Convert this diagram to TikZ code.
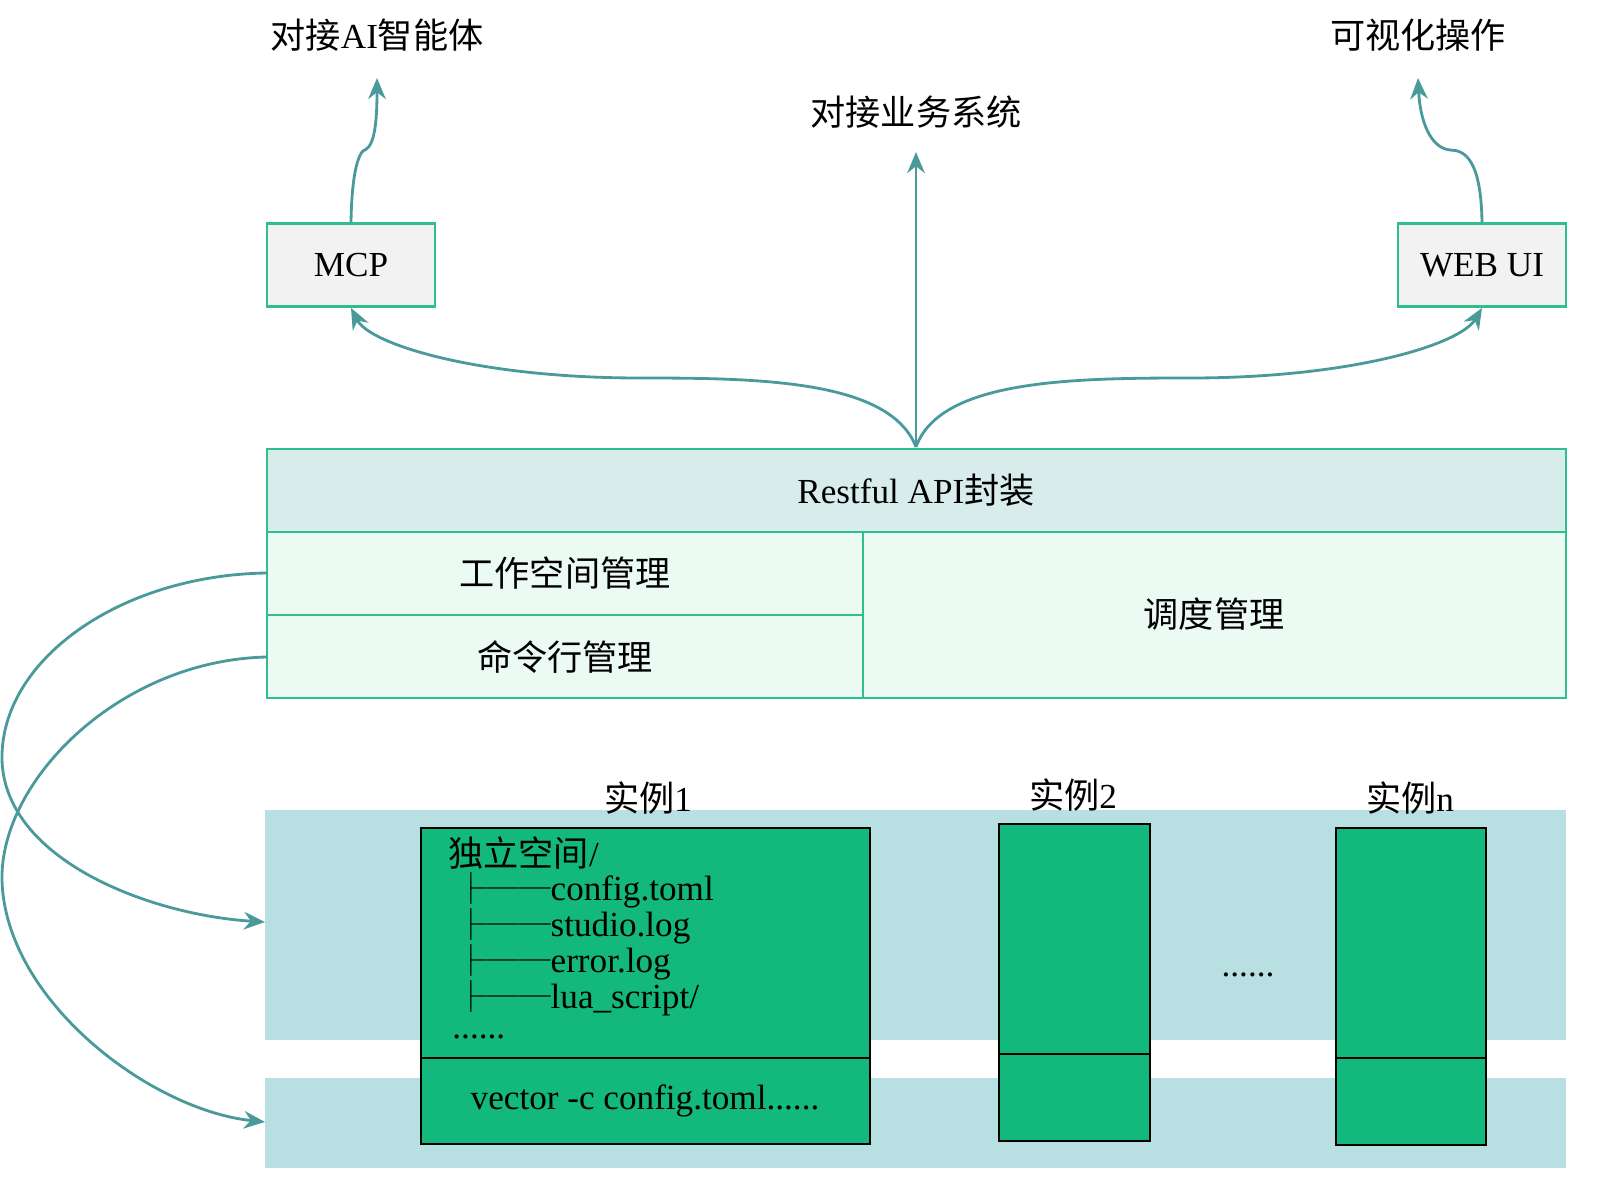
\documentclass[tikz,border=0pt]{standalone}
\usepackage{fontspec}
\setmainfont{Liberation Serif}
\newfontfamily\cjk{Noto Sans CJK SC}
\usetikzlibrary{arrows.meta}
\definecolor{edge}{HTML}{2EBF8C}
\definecolor{arr}{HTML}{4A9A9C}
\definecolor{bluefill}{HTML}{D8ECEC}
\definecolor{mintfill}{HTML}{ECFAF4}
\definecolor{band}{HTML}{B8E0E2}
\definecolor{inst}{HTML}{12B87C}
\definecolor{boxgray}{HTML}{F2F2F2}
\newcommand{\zh}[1]{{\cjk #1}}
\begin{document}
\begin{tikzpicture}[x=0.01cm,y=-0.01cm,font=\fontsize{10}{12}\selectfont,
    flow/.style={arr,thick,-{Stealth[length=6pt,width=5pt]}},
    panel/.style={draw=edge,thick},
    inbox/.style={draw=black,thick,fill=inst}]
        \useasboundingbox (0,0) rectangle (1600,1194);

        % top targets
        \node (ai) at (377,35) {\zh{对接}AI\zh{智能体}};
        \node (biz) at (916,112) {\zh{对接业务系统}};
        \node (viz) at (1418,35) {\zh{可视化操作}};
        \coordinate (aiin) at (377,78);
        \coordinate (bizin) at (916,152);
        \coordinate (vizin) at (1418,78);

        % access boxes
        \node[panel,fill=boxgray,minimum width=1.68cm,minimum height=0.83cm] (mcp) at (351,265) {MCP};
        \node[panel,fill=boxgray,minimum width=1.68cm,minimum height=0.83cm] (web) at (1482,265) {WEB UI};

        % api layer
        \draw[panel,fill=bluefill] (267,449) rectangle (1566,532);
        \node (api) at (916,490) {Restful API\zh{封装}};
        \draw[panel,fill=mintfill] (267,532) rectangle (863,615);
        \draw[panel,fill=mintfill] (267,615) rectangle (863,698);
        \draw[panel,fill=mintfill] (863,532) rectangle (1566,698);
        \node (ws) at (565,573) {\zh{工作空间管理}};
        \node (cmd) at (565,657) {\zh{命令行管理}};
        \node (sch) at (1214,614) {\zh{调度管理}};
        \coordinate (top) at (916,447);

        % arrows up
        \draw[flow] (top) -- (bizin);
        \draw[flow] (top) .. controls (890,380) and (760,378) .. (640,378) .. controls (480,378) and (370,345) .. (mcp.south);
        \draw[flow] (top) .. controls (940,380) and (1070,378) .. (1190,378) .. controls (1350,378) and (1460,345) .. (web.south);
        \draw[flow] (mcp.north) .. controls (352,160) and (362,150) .. (365,150) .. controls (375,145) and (377,120) .. (aiin);
        \draw[flow] (web.north) .. controls (1481,160) and (1465,150) .. (1450,150) .. controls (1430,148) and (1420,120) .. (vizin);

        % bands
        \fill[band] (265,810) rectangle (1566,1040);
        \fill[band] (265,1078) rectangle (1566,1168);
        \coordinate (bandA) at (265,922);
        \coordinate (bandB) at (265,1122);
        \draw[flow] (267,573) .. controls (120,575) and (0,660) .. (2,760) .. controls (5,860) and (150,915) .. (bandA);
        \draw[flow] (267,657) .. controls (120,660) and (0,780) .. (2,880) .. controls (5,1000) and (150,1110) .. (bandB);

        % instances
        \draw[inbox] (421,828) rectangle (870,1058);
        \draw[inbox] (421,1058) rectangle (870,1144);
        \draw[inbox] (999,824) rectangle (1150,1054);
        \draw[inbox] (999,1054) rectangle (1150,1141);
        \draw[inbox] (1336,828) rectangle (1486,1058);
        \draw[inbox] (1336,1058) rectangle (1486,1145);
        \node (i1) at (648,798) {\zh{实例}1};
        \node (i2) at (1073,795) {\zh{实例}2};
        \node (in) at (1410,798) {\zh{实例}n};
        \node (dots) at (1248,975) {......};

        \node[anchor=west] (root) at (436,853) {\zh{独立空间}/};
        \foreach \f [count=\i] in {config.toml,studio.log,error.log,lua\_script/}
            \node[anchor=west,inner sep=0pt] (f\i) at (455,854+36*\i) {{\cjk\fontsize{9}{10}\selectfont ├──}\f};
        \node[anchor=west] (more) at (440,1037) {......};
        \node (vec) at (645,1101) {vector -c config.toml......};
    \end{tikzpicture}
\end{document}
